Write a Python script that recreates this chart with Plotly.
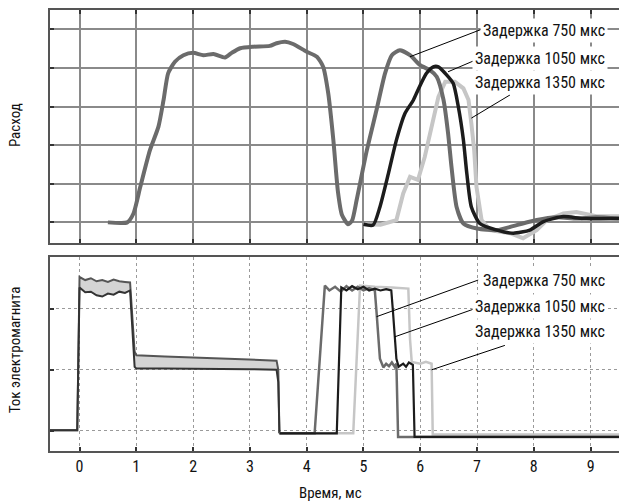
import plotly.graph_objects as go

# ---------------- data ----------------
# Top panel: flow ("Расход"), grid units
flow_750_x = [0.5, 0.84, 0.95, 1.07, 1.24, 1.39, 1.48, 1.56, 1.68, 1.83, 2.0, 2.18, 2.36, 2.56, 2.68, 2.83,
              3.06, 3.35, 3.47, 3.62, 3.76, 4.0, 4.18, 4.29, 4.38, 4.47, 4.55, 4.62, 4.73, 4.8, 4.88, 5.06,
              5.23, 5.38, 5.5, 5.64, 5.82, 6.0, 6.17, 6.29, 6.41, 6.49, 6.55, 6.64, 6.76, 7.0, 7.35, 7.7,
              8.05, 8.4, 8.75, 9.1, 9.5]
flow_750_y = [0.0, 0.0, 0.23, 0.92, 1.87, 2.48, 3.17, 3.86, 4.16, 4.33, 4.39, 4.33, 4.36, 4.27, 4.39, 4.51,
              4.55, 4.57, 4.64, 4.68, 4.62, 4.42, 4.29, 4.03, 3.34, 2.13, 0.8, 0.2, -0.05, 0.05, 0.58, 1.87,
              2.91, 3.86, 4.33, 4.46, 4.33, 4.07, 3.94, 3.77, 3.17, 2.31, 1.44, 0.4, -0.03, -0.16, -0.2, -0.07,
              0.06, 0.13, 0.1, 0.13, 0.1]

flow_1050_x = [5.0, 5.17, 5.29, 5.44, 5.58, 5.73, 5.88, 5.96, 6.11, 6.23, 6.32, 6.44, 6.58, 6.67, 6.76,
               6.82, 6.9, 7.05, 7.35, 7.64, 7.93, 8.17, 8.52, 8.87, 9.5]
flow_1050_y = [-0.05, -0.07, 0.4, 1.27, 2.13, 2.82, 3.17, 3.43, 3.86, 4.03, 4.03, 3.86, 3.6, 3.0, 2.13,
               1.27, 0.4, -0.03, -0.2, -0.28, -0.2, 0.02, 0.15, 0.1, 0.1]

flow_1350_x = [5.0, 5.3, 5.58, 5.7, 5.82, 5.96, 6.08, 6.2, 6.32, 6.44, 6.61, 6.76, 6.85, 6.9, 6.95, 6.99,
               7.08, 7.23, 7.58, 7.81, 8.05, 8.23, 8.52, 8.75, 9.1, 9.5]
flow_1350_y = [-0.05, -0.06, 0.06, 0.75, 1.18, 1.1, 1.7, 2.48, 3.25, 3.64, 3.64, 3.47, 3.17, 2.56, 1.87, 0.92,
               0.06, -0.2, -0.28, -0.41, -0.2, 0.06, 0.23, 0.27, 0.16, 0.16]

# Bottom panel: solenoid current ("Ток электромагнита"), grid units
# common part (all delays identical): upper and lower edges of the trace band
cur_common_x = [-0.52, -0.04, 0.0, 0.1, 0.2, 0.3, 0.4, 0.5, 0.6, 0.7, 0.8, 0.89, 0.97, 1.0, 1.5, 2.0,
                2.5, 3.0, 3.47, 3.5, 3.52]
cur_upper_y = [0.01, 0.01, 2.52, 2.47, 2.5, 2.45, 2.47, 2.44, 2.48, 2.45, 2.44, 2.43, 1.3, 1.24, 1.22,
               1.2, 1.19, 1.17, 1.15, 1.0, -0.04]
cur_lower_y = [0.01, 0.01, 2.35, 2.27, 2.28, 2.22, 2.2, 2.25, 2.23, 2.28, 2.26, 2.3, 1.05, 1.02, 1.02,
               1.02, 1.01, 1.01, 1.0, 0.8, -0.04]

cur_750_x = [3.52, 4.14, 4.32, 4.4, 4.5, 4.6, 4.7, 4.8, 4.9, 5.0, 5.1, 5.2, 5.23, 5.26, 5.29, 5.35, 5.4,
             5.45, 5.5, 5.55, 5.58, 5.61, 9.5]
cur_750_y = [-0.04, -0.04, 2.38, 2.3, 2.36, 2.28, 2.37, 2.3, 2.36, 2.3, 2.34, 2.3, 1.95, 1.51, 1.18, 1.04,
             1.1, 1.06, 1.12, 1.05, 1.1, -0.1, -0.1]

cur_1050_x = [3.52, 4.53, 4.61, 4.7, 4.8, 4.9, 5.0, 5.1, 5.2, 5.3, 5.4, 5.49, 5.52, 5.55, 5.58, 5.62,
              5.7, 5.75, 5.8, 5.87, 5.9, 9.5]
cur_1050_y = [-0.04, -0.04, 2.35, 2.3, 2.37, 2.32, 2.36, 2.3, 2.33, 2.3, 2.32, 2.3, 1.95, 1.5, 1.18, 1.05,
              1.1, 1.05, 1.12, 1.08, -0.1, -0.1]

cur_1350_x = [3.52, 4.82, 4.94, 5.2, 5.5, 5.79, 5.82, 5.85, 6.0, 6.1, 6.2, 6.22, 9.5]
cur_1350_y = [-0.04, -0.04, 2.38, 2.36, 2.35, 2.33, 1.5, 1.13, 1.1, 1.13, 1.1, -0.06, -0.06]

series_names = ["Задержка 750 мкс", "Задержка 1050 мкс", "Задержка 1350 мкс"]
x_ticks = [0, 1, 2, 3, 4, 5, 6, 7, 8, 9]

# ---------------- styles ----------------
C750, C1050, C1350 = "#6b6b6b", "#1c1c1c", "#c6c6c6"
FONT = "Roboto Condensed, Roboto, Liberation Sans, sans-serif"

fig = go.Figure()

# top panel
fig.add_trace(go.Scatter(x=flow_1350_x, y=flow_1350_y, mode="lines", line=dict(color=C1350, width=4),
                         xaxis="x", yaxis="y", showlegend=False))
fig.add_trace(go.Scatter(x=flow_750_x, y=flow_750_y, mode="lines", line=dict(color=C750, width=4, shape="spline", smoothing=0.6),
                         xaxis="x", yaxis="y", showlegend=False))
fig.add_trace(go.Scatter(x=flow_1050_x, y=flow_1050_y, mode="lines", line=dict(color=C1050, width=3.5, shape="spline", smoothing=0.6),
                         xaxis="x", yaxis="y", showlegend=False))

# bottom panel: common band
fig.add_trace(go.Scatter(x=cur_common_x, y=cur_upper_y, mode="lines", line=dict(color="#555555", width=2),
                         xaxis="x2", yaxis="y2", showlegend=False))
fig.add_trace(go.Scatter(x=cur_common_x, y=cur_lower_y, mode="lines", line=dict(color="#333333", width=2),
                         fill="tonexty", fillcolor="#d4d4d4", xaxis="x2", yaxis="y2", showlegend=False))
fig.add_trace(go.Scatter(x=cur_1350_x, y=cur_1350_y, mode="lines", line=dict(color=C1350, width=2.5),
                         xaxis="x2", yaxis="y2", showlegend=False))
fig.add_trace(go.Scatter(x=cur_750_x, y=cur_750_y, mode="lines", line=dict(color=C750, width=2.5),
                         xaxis="x2", yaxis="y2", showlegend=False))
fig.add_trace(go.Scatter(x=cur_1050_x, y=cur_1050_y, mode="lines", line=dict(color=C1050, width=2.2),
                         xaxis="x2", yaxis="y2", showlegend=False))

axis_common = dict(showline=True, linecolor="#555555", linewidth=2, zeroline=False,
                   ticks="inside", ticklen=4, tickcolor="#333333", tickwidth=1.5)

fig.update_layout(
    width=619, height=502,
    margin=dict(l=50, r=0, t=10, b=51),
    paper_bgcolor="white", plot_bgcolor="white",
    font=dict(family=FONT, size=16, color="#111111"),
    xaxis=dict(domain=[0, 1], range=[-0.52, 9.5], tickvals=x_ticks, showticklabels=False,
               showgrid=True, gridcolor="#8a8a8a", gridwidth=1.5, mirror="ticks", anchor="y", **axis_common),
    yaxis=dict(domain=[0.472, 1], range=[-0.53, 5.5], tickvals=[0, 1, 2, 3, 4, 5], showticklabels=False,
               showgrid=True, gridcolor="#8a8a8a", gridwidth=1.5, anchor="x", **axis_common),
    xaxis2=dict(domain=[0, 1], range=[-0.52, 9.5], tickvals=x_ticks, showticklabels=True,
                showgrid=True, gridcolor="#9a9a9a", gridwidth=1, griddash="dot", mirror=True, anchor="y2",
                tickfont=dict(size=16), **axis_common),
    yaxis2=dict(domain=[0, 0.4402], range=[-0.33, 2.85], tickvals=[0, 1, 2], showticklabels=False,
                showgrid=True, gridcolor="#9a9a9a", gridwidth=1, griddash="dot", anchor="x2", **axis_common),
)

# leader lines
leader_top = [((7.08, 5.0), (5.82, 4.29)), ((7.11, 4.29), (6.49, 3.9)), ((7.58, 3.3), (6.9, 2.7))]
leader_bot = [((7.02, 2.47), (5.23, 1.87)), ((7.05, 2.03), (5.55, 1.54)), ((7.49, 1.40), (6.2, 1.0))]
for (x0, y0), (x1, y1) in leader_top:
    fig.add_shape(type="line", x0=x0, y0=y0, x1=x1, y1=y1, xref="x", yref="y", line=dict(color="black", width=1))
for (x0, y0), (x1, y1) in leader_bot:
    fig.add_shape(type="line", x0=x0, y0=y0, x1=x1, y1=y1, xref="x2", yref="y2", line=dict(color="black", width=1))

# labels
top_label_y = [4.96, 4.25, 3.62]
bot_label_y = [2.47, 2.03, 1.62]
for name, yv in zip(series_names, top_label_y):
    fig.add_annotation(x=9.3, y=yv, xref="x", yref="y", text=name, showarrow=False, xanchor="right",
                       yanchor="middle", bgcolor="white", borderpad=2, font=dict(size=16))
for name, yv in zip(series_names, bot_label_y):
    fig.add_annotation(x=9.3, y=yv, xref="x2", yref="y2", text=name, showarrow=False, xanchor="right",
                       yanchor="middle", bgcolor="white", borderpad=2, font=dict(size=16))

# axis titles
fig.add_annotation(x=-0.0615, y=0.739, xref="paper", yref="paper", text="Расход", textangle=-90,
                   showarrow=False, xanchor="center", yanchor="middle", font=dict(size=15))
fig.add_annotation(x=-0.0615, y=0.2285, xref="paper", yref="paper", text="Ток электромагнита", textangle=-90,
                   showarrow=False, xanchor="center", yanchor="middle", font=dict(size=15))
fig.add_annotation(x=(330 - 50) / 569, y=-0.095, xref="paper", yref="paper", text="Время, мс",
                   showarrow=False, xanchor="center", yanchor="middle", font=dict(size=15))

fig.write_html("out.html")
